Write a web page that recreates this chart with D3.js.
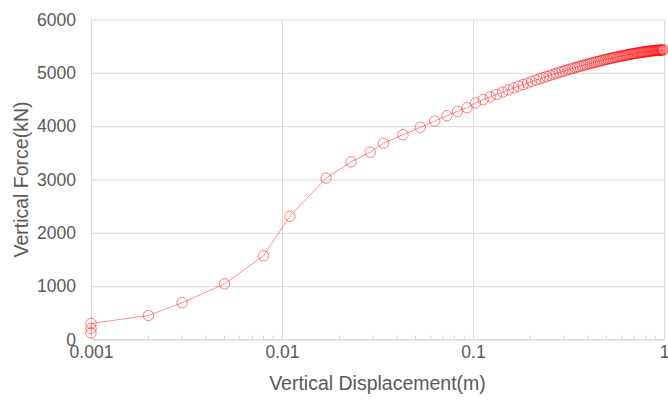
<!DOCTYPE html>
<html>
<head>
<meta charset="utf-8">
<script src="https://cdn.jsdelivr.net/npm/d3@7"></script>
<style>
  html, body { margin: 0; padding: 0; background: #fff; }
  svg { display: block; font-family: "Liberation Sans", Arial, sans-serif; }
</style>
</head>
<body>
<svg id="chart" width="668" height="401"></svg>
<script>
// Load–settlement data: vertical displacement (m) and vertical force (kN)
const displacement = [
  0.001, 0.001, 0.001, 0.002, 0.003, 0.005, 0.008, 0.011, 0.017, 0.023,
  0.029, 0.034, 0.043, 0.053, 0.063, 0.073, 0.083, 0.093, 0.103,
  0.113, 0.123, 0.133, 0.143, 0.153, 0.163, 0.173, 0.183, 0.193, 0.203,
  0.213, 0.223, 0.233, 0.243, 0.253, 0.263, 0.273, 0.283, 0.293, 0.303,
  0.313, 0.323, 0.333, 0.343, 0.353, 0.363, 0.373, 0.383, 0.393, 0.403,
  0.413, 0.423, 0.433, 0.443, 0.453, 0.463, 0.473, 0.483, 0.493, 0.503,
  0.513, 0.523, 0.533, 0.543, 0.553, 0.563, 0.573, 0.583, 0.593, 0.603,
  0.613, 0.623, 0.633, 0.643, 0.653, 0.663, 0.673, 0.683, 0.693, 0.703,
  0.713, 0.723, 0.733, 0.743, 0.753, 0.763, 0.773, 0.783, 0.793, 0.803,
  0.813, 0.823, 0.833, 0.843, 0.853, 0.863, 0.873, 0.883, 0.893, 0.903,
  0.913, 0.923, 0.933, 0.943, 0.953, 0.963, 0.973, 0.983, 0.993
];
const force = [
  124, 206, 300, 450, 690, 1043, 1569, 2312, 3025, 3331,
  3512, 3680, 3840, 3978, 4096, 4196, 4278, 4346, 4437,
  4497, 4549, 4596, 4639, 4679, 4715, 4749, 4780, 4810, 4837,
  4863, 4887, 4910, 4932, 4952, 4972, 4990, 5008, 5024, 5040,
  5056, 5070, 5084, 5098, 5110, 5123, 5135, 5146, 5157, 5168,
  5178, 5188, 5197, 5206, 5215, 5224, 5232, 5240, 5248, 5255,
  5262, 5269, 5276, 5283, 5289, 5295, 5301, 5307, 5312, 5318,
  5323, 5328, 5333, 5338, 5342, 5347, 5351, 5356, 5360, 5364,
  5367, 5371, 5375, 5378, 5381, 5385, 5388, 5391, 5394, 5397,
  5399, 5402, 5404, 5407, 5409, 5411, 5413, 5415, 5417, 5419,
  5421, 5422, 5424, 5425, 5426, 5427, 5428, 5429, 5430
];

// Axis ticks
const xTicks = [0.001, 0.01, 0.1, 1];
const xTickLabels = ["0.001", "0.01", "0.1", "1"];
const yTicks = [0, 1000, 2000, 3000, 4000, 5000, 6000];
const xMinorTicks = [2,3,4,5,6,7,8,9].flatMap(m => [m * 0.001, m * 0.01, m * 0.1]);

const xTitle = "Vertical Displacement(m)";
const yTitle = "Vertical Force(kN)";

const margin = { left: 91, right: 4, top: 19.5, bottom: 61.5 };
const W = 668, H = 401;

const svg = d3.select("#chart");

const x = d3.scaleLog().domain([0.001, 1]).range([margin.left, W - margin.right]);
const y = d3.scaleLinear().domain([0, 6000]).range([H - margin.bottom, margin.top]);

const gridColor = "#d9d9d9";
const textColor = "#595959";
const tickFont = 17.5;
const titleFont = 19.5;

// Horizontal gridlines and y tick labels
const yAxis = svg.append("g")
  .attr("transform", `translate(${margin.left},0)`)
  .call(d3.axisLeft(y).tickValues(yTicks).tickSize(-(W - margin.left - margin.right)).tickPadding(15).tickFormat(d3.format("d")));
yAxis.select(".domain").remove();
yAxis.selectAll(".tick line").attr("stroke", gridColor).attr("stroke-width", 1);
yAxis.selectAll(".tick text").attr("fill", textColor).attr("font-size", tickFont);

// Vertical gridlines and x tick labels
const xAxis = svg.append("g")
  .attr("transform", `translate(0,${H - margin.bottom})`)
  .call(d3.axisBottom(x).tickValues(xTicks).tickSize(-(H - margin.top - margin.bottom)).tickPadding(6)
    .tickFormat((d, i) => xTickLabels[i]));
xAxis.select(".domain").remove();
xAxis.selectAll(".tick line").attr("stroke", gridColor).attr("stroke-width", 1);
xAxis.selectAll(".tick text").attr("fill", textColor).attr("font-size", tickFont);

// Minor tick marks on the log axis
svg.append("g").selectAll("line")
  .data(xMinorTicks)
  .join("line")
  .attr("x1", d => x(d)).attr("x2", d => x(d))
  .attr("y1", y(0)).attr("y2", y(0) - 4)
  .attr("stroke", gridColor).attr("stroke-width", 1);

// Axis base line
svg.append("line")
  .attr("x1", margin.left).attr("x2", W - margin.right)
  .attr("y1", y(0)).attr("y2", y(0))
  .attr("stroke", gridColor).attr("stroke-width", 1);

// Axis titles
svg.append("text")
  .attr("x", (margin.left + W - margin.right) / 2)
  .attr("y", 390)
  .attr("text-anchor", "middle")
  .attr("fill", textColor)
  .attr("font-size", titleFont)
  .text(xTitle);

svg.append("text")
  .attr("transform", `translate(28,${(margin.top + H - margin.bottom) / 2}) rotate(-90)`)
  .attr("text-anchor", "middle")
  .attr("fill", textColor)
  .attr("font-size", titleFont)
  .text(yTitle);

// Series
const pts = displacement.map((d, i) => [d, force[i]]);

svg.append("path")
  .datum(pts)
  .attr("fill", "none")
  .attr("stroke", "#ff0000")
  .attr("stroke-opacity", 0.45)
  .attr("stroke-width", 1)
  .attr("d", d3.line().x(d => x(d[0])).y(d => y(d[1])));

svg.append("g").selectAll("circle")
  .data(pts)
  .join("circle")
  .attr("cx", d => x(d[0]))
  .attr("cy", d => y(d[1]))
  .attr("r", 5.2)
  .attr("fill", "none")
  .attr("stroke", "#ff0000")
  .attr("stroke-opacity", 0.5)
  .attr("stroke-width", 1);
</script>
</body>
</html>
